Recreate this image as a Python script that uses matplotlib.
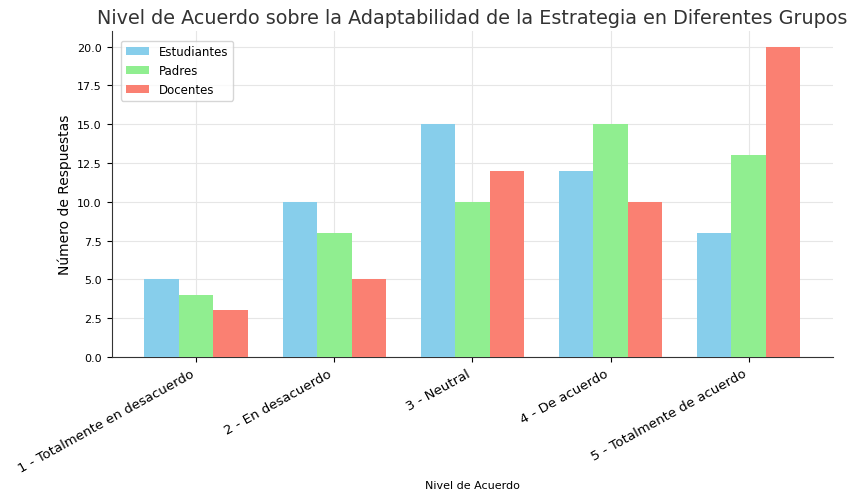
import numpy as np
import matplotlib
matplotlib.use("Agg")
import matplotlib.pyplot as plt

niveles = ['1 - Totalmente en desacuerdo', '2 - En desacuerdo', '3 - Neutral',
           '4 - De acuerdo', '5 - Totalmente de acuerdo']
estudiantes = [5, 10, 15, 12, 8]
padres = [4, 8, 10, 15, 13]
docentes = [3, 5, 12, 10, 20]

x = np.arange(len(niveles))
w = 0.25

fig = plt.figure(figsize=(8.52, 5.02), dpi=100)
ax = fig.add_axes([0.131, 0.287, 0.847, 0.649])

ax.bar(x - w, estudiantes, w, label='Estudiantes', color='skyblue', zorder=3)
ax.bar(x, padres, w, label='Padres', color='lightgreen', zorder=3)
ax.bar(x + w, docentes, w, label='Docentes', color='salmon', zorder=3)

ax.set_xticks(x)
ax.set_xticklabels(niveles, rotation=29, ha='right', fontsize=9.5)
ax.tick_params(axis='y', labelsize=8)
ax.set_yticks(np.arange(0, 20.1, 2.5))
ax.set_ylim(0, 21)
ax.grid(True, color='#e6e6e6', linewidth=0.8, zorder=0)
for s in ['top', 'right']:
    ax.spines[s].set_visible(False)
for s in ['left', 'bottom']:
    ax.spines[s].set_color('#333333')

ax.set_xlabel('Nivel de Acuerdo', fontsize=8, labelpad=4)
ax.set_ylabel('Número de Respuestas', fontsize=10)
ax.set_title('Nivel de Acuerdo sobre la Adaptabilidad de la Estrategia en Diferentes Grupos',
             fontsize=13.8, color='#333333')
ax.legend(loc='upper left', fontsize=8.5, borderaxespad=0.8)

fig.savefig('out.png', dpi=100)
